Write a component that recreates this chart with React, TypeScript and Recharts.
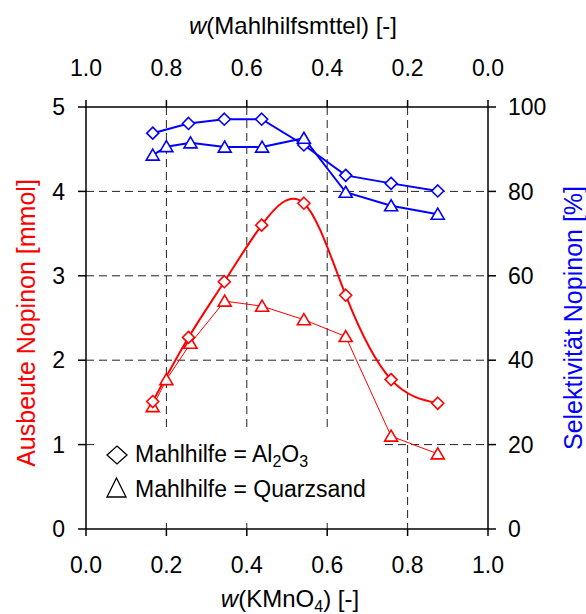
import React from "react";
import {
  LineChart,
  Line,
  XAxis,
  YAxis,
  CartesianGrid,
} from "recharts";

// w(KMnO4) values and results
const xAl2O3 = [0.166, 0.255, 0.344, 0.437, 0.542, 0.646, 0.759, 0.875];
const xQuarz = [0.166, 0.2, 0.26, 0.345, 0.438, 0.542, 0.646, 0.759, 0.875];

const yieldAl2O3 = [1.51, 2.27, 2.93, 3.6, 3.86, 2.77, 1.77, 1.49];
const yieldQuarz = [1.45, 1.77, 2.2, 2.7, 2.64, 2.48, 2.28, 1.1, 0.89];

const selAl2O3 = [93.8, 96.1, 97.1, 97.1, 91.0, 83.8, 81.9, 80.1];
const selQuarz = [88.6, 90.6, 91.5, 90.5, 90.5, 92.6, 79.8, 76.6, 74.6];

const xTicks = [0, 0.2, 0.4, 0.6, 0.8, 1.0];
const xMinorTicks = Array.from({ length: 21 }, (_, i) => i * 0.05);
const leftTicks = [0, 1, 2, 3, 4, 5];
const leftMinorTicks = Array.from({ length: 26 }, (_, i) => i * 0.2);
const rightTicks = [0, 20, 40, 60, 80, 100];
const rightMinorTicks = Array.from({ length: 21 }, (_, i) => i * 5);

const FONT = "'Liberation Sans', Arial, sans-serif";
const RED = "#ff0000";
const BLUE = "#0000ff";

const zip = (xs: number[], ys: number[]) => xs.map((x, i) => ({ x, y: ys[i] }));

const alYield = zip(xAl2O3, yieldAl2O3);
const qzYield = zip(xQuarz, yieldQuarz);
const alSel = zip(xAl2O3, selAl2O3);
const qzSel = zip(xQuarz, selQuarz);

function diamondDot(color: string) {
  return (p: any) => {
    const { cx, cy, index } = p;
    const r = 6;
    return (
      <polygon
        key={`d-${index}`}
        points={`${cx},${cy - r} ${cx + r},${cy} ${cx},${cy + r} ${cx - r},${cy}`}
        fill="#fff"
        stroke={color}
        strokeWidth={1.6}
      />
    );
  };
}

function triangleDot(color: string) {
  return (p: any) => {
    const { cx, cy, index } = p;
    return (
      <polygon
        key={`t-${index}`}
        points={`${cx},${cy - 6} ${cx + 6.5},${cy + 5} ${cx - 6.5},${cy + 5}`}
        fill="#fff"
        stroke={color}
        strokeWidth={1.6}
      />
    );
  };
}

const tickStyle = { fill: "#000", fontSize: 23, fontFamily: FONT };
const axisLine = { stroke: "#000", strokeWidth: 1.5 };

// invisible helper series so that axes without own data still get a scale
function ghost(xId: string, yId: string) {
  return (
    <Line
      key={`g-${xId}-${yId}`}
      data={alYield}
      dataKey="y"
      xAxisId={xId}
      yAxisId={yId}
      stroke="none"
      dot={false}
      activeDot={false}
      isAnimationActive={false}
    />
  );
}

export default function App() {
  return (
    <div
      style={{
        position: "absolute",
        left: 0,
        top: 0,
        width: 586,
        height: 614,
        background: "#fff",
      }}
    >
      <LineChart
        width={586}
        height={614}
        margin={{ top: 0, right: 0, bottom: 0, left: 0 }}
      >
        <CartesianGrid
          xAxisId="bottom"
          yAxisId="left"
          stroke="#222"
          strokeDasharray="8 5"
          horizontalValues={[1, 2, 3, 4]}
          verticalValues={[0.2, 0.4, 0.6, 0.8]}
        />
        <XAxis
          xAxisId="bottom"
          dataKey="x"
          type="number"
          orientation="bottom"
          domain={[0, 1]}
          allowDataOverflow
          ticks={xTicks}
          interval={0}
          height={85}
          tickSize={7}
          tickMargin={21}
          tick={tickStyle}
          tickFormatter={(v: number) => v.toFixed(1)}
          axisLine={axisLine}
          tickLine={axisLine}
        />
        <XAxis
          xAxisId="top"
          dataKey="x"
          type="number"
          orientation="top"
          domain={[0, 1]}
          allowDataOverflow
          ticks={xTicks}
          interval={0}
          height={107}
          tickSize={7}
          tickMargin={24}
          tick={tickStyle}
          tickFormatter={(v: number) => (1 - v).toFixed(1)}
          axisLine={axisLine}
          tickLine={axisLine}
        />
        <XAxis
          xAxisId="bottomMinor"
          dataKey="x"
          type="number"
          orientation="bottom"
          mirror
          domain={[0, 1]}
          allowDataOverflow
          ticks={xMinorTicks}
          interval={0}
          tickSize={7}
          tick={false}
          axisLine={false}
          tickLine={axisLine}
        />
        <XAxis
          xAxisId="topMinor"
          dataKey="x"
          type="number"
          orientation="top"
          mirror
          domain={[0, 1]}
          allowDataOverflow
          ticks={xMinorTicks}
          interval={0}
          tickSize={7}
          tick={false}
          axisLine={false}
          tickLine={axisLine}
        />
        <YAxis
          yAxisId="left"
          type="number"
          orientation="left"
          domain={[0, 5]}
          allowDataOverflow
          ticks={leftTicks}
          interval={0}
          width={86}
          tickSize={8}
          tickMargin={13}
          tick={tickStyle}
          axisLine={axisLine}
          tickLine={axisLine}
        />
        <YAxis
          yAxisId="leftMinor"
          type="number"
          orientation="left"
          mirror
          domain={[0, 5]}
          allowDataOverflow
          ticks={leftMinorTicks}
          interval={0}
          tickSize={7}
          tick={false}
          axisLine={false}
          tickLine={axisLine}
        />
        <YAxis
          yAxisId="right"
          type="number"
          orientation="right"
          domain={[0, 100]}
          allowDataOverflow
          ticks={rightTicks}
          interval={0}
          width={98}
          tickSize={8}
          tickMargin={12}
          tick={tickStyle}
          axisLine={axisLine}
          tickLine={axisLine}
        />
        <YAxis
          yAxisId="rightMinor"
          type="number"
          orientation="right"
          mirror
          domain={[0, 100]}
          allowDataOverflow
          ticks={rightMinorTicks}
          interval={0}
          tickSize={7}
          tick={false}
          axisLine={false}
          tickLine={axisLine}
        />

        {ghost("top", "leftMinor")}
        {ghost("topMinor", "rightMinor")}
        {ghost("bottomMinor", "left")}

        <Line
          data={alSel}
          dataKey="y"
          xAxisId="bottom"
          yAxisId="right"
          type="linear"
          stroke={BLUE}
          strokeWidth={2}
          dot={diamondDot(BLUE)}
          isAnimationActive={false}
        />
        <Line
          data={qzSel}
          dataKey="y"
          xAxisId="bottom"
          yAxisId="right"
          type="linear"
          stroke={BLUE}
          strokeWidth={2}
          dot={triangleDot(BLUE)}
          isAnimationActive={false}
        />
        <Line
          data={qzYield}
          dataKey="y"
          xAxisId="bottom"
          yAxisId="left"
          type="linear"
          stroke={RED}
          strokeWidth={1}
          dot={triangleDot(RED)}
          isAnimationActive={false}
        />
        <Line
          data={alYield}
          dataKey="y"
          xAxisId="bottom"
          yAxisId="left"
          type="natural"
          stroke={RED}
          strokeWidth={2}
          dot={diamondDot(RED)}
          isAnimationActive={false}
        />
      </LineChart>

      {/* titles and legend */}
      <svg
        width={586}
        height={614}
        style={{ position: "absolute", left: 0, top: 0, pointerEvents: "none" }}
        fontFamily={FONT}
      >
        <text x={293} y={34} fontSize={24} textAnchor="middle" fill="#000">
          <tspan fontStyle="italic">w</tspan>(Mahlhilfsmttel) [-]
        </text>
        <text x={290} y={607} fontSize={24} textAnchor="middle" fill="#000">
          <tspan fontStyle="italic">w</tspan>(KMnO
          <tspan fontSize={16} dy={5}>4</tspan>
          <tspan dy={-5}>) [-]</tspan>
        </text>
        <text
          transform="translate(35,323) rotate(-90)"
          fontSize={25}
          textAnchor="middle"
          fill={RED}
        >
          Ausbeute Nopinon [mmol]
        </text>
        <text
          transform="translate(582,318) rotate(-90)"
          fontSize={25}
          textAnchor="middle"
          fill={BLUE}
        >
          Selektivität Nopinon [%]
        </text>

        <rect x={94} y={432} width={288} height={89} fill="#fff" />
        <polygon
          points="117,446 127,455 117,464 107,455"
          fill="none"
          stroke="#000"
          strokeWidth={1.3}
        />
        <text x={135} y={462} fontSize={23} fill="#000">
          Mahlhilfe = Al
          <tspan fontSize={16} dy={5}>2</tspan>
          <tspan dy={-5}>O</tspan>
          <tspan fontSize={16} dy={5}>3</tspan>
        </text>
        <polygon
          points="116.5,478 126,497 107,497"
          fill="none"
          stroke="#000"
          strokeWidth={1.3}
        />
        <text x={135} y={497} fontSize={23} fill="#000">
          Mahlhilfe = Quarzsand
        </text>
      </svg>
    </div>
  );
}
